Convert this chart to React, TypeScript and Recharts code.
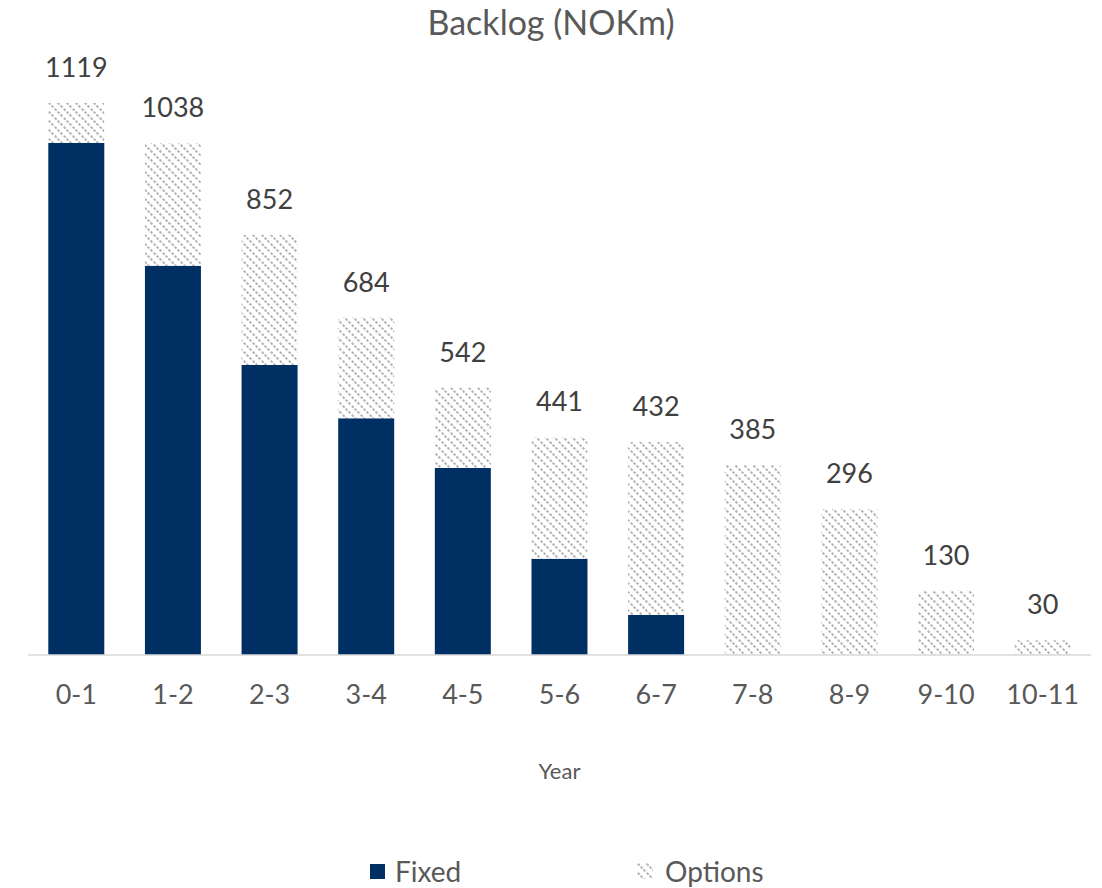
import React from "react";
import {
  BarChart,
  Bar,
  XAxis,
  YAxis,
  Legend,
  LabelList,
} from "recharts";

// Backlog per year bucket, NOKm
const years = ["0-1", "1-2", "2-3", "3-4", "4-5", "5-6", "6-7", "7-8", "8-9", "9-10", "10-11"];
const fixedValues = [1038, 789, 588, 480, 379, 195, 81, 0, 0, 0, 0];
const totalValues = [1119, 1038, 852, 684, 542, 441, 432, 385, 296, 130, 30];

const data = years.map((year, i) => ({
  year,
  fixed: fixedValues[i],
  options: totalValues[i] - fixedValues[i],
  total: totalValues[i],
}));

const FONT = "Lato, 'Open Sans', sans-serif";
const NAVY = "#003063";

function LegendContent() {
  return (
    <div style={{ position: "relative", height: 36, fontFamily: FONT, fontSize: 28, color: "#595959" }}>
      <div style={{ position: "absolute", left: 370, top: 2, display: "flex", alignItems: "center" }}>
        <span style={{ width: 15, height: 15, background: NAVY, display: "inline-block", marginRight: 10 }} />
        <span>Fixed</span>
      </div>
      <div style={{ position: "absolute", left: 637, top: 2, display: "flex", alignItems: "center" }}>
        <svg width={16} height={16} style={{ marginRight: 12 }}>
          <rect width={16} height={16} fill="url(#optionsHatch)" />
        </svg>
        <span>Options</span>
      </div>
    </div>
  );
}

export default function App() {
  return (
    <div style={{ position: "absolute", left: 0, top: 0, width: 1102, height: 888, background: "#fff" }}>
      <div
        style={{
          position: "absolute",
          top: 0,
          left: 0,
          width: 1102,
          textAlign: "center",
          fontFamily: FONT,
          fontSize: 34,
          lineHeight: "44px",
          color: "#595959",
        }}
      >
        Backlog (NOKm)
      </div>
      <BarChart
        width={1102}
        height={888}
        data={data}
        margin={{ top: 63, right: 11, bottom: 0, left: 28 }}
        barCategoryGap="21%"
      >
        <defs>
          <pattern id="optionsHatch" width={9} height={9} patternUnits="userSpaceOnUse">
            <rect width={9} height={9} fill="#ffffff" />
            <path
              d="M-2,-2 L11,11 M-2,7 L2,11 M7,-2 L11,2"
              stroke="#b3b3b3"
              strokeWidth={2}
              strokeDasharray="2.5 1.5"
            />
          </pattern>
        </defs>
        <XAxis
          dataKey="year"
          height={197}
          tickLine={false}
          tickMargin={24}
          axisLine={{ stroke: "#d9d9d9", strokeWidth: 1.5 }}
          tick={{ fontFamily: FONT, fontSize: 27, fill: "#595959" }}
          label={{
            value: "Year",
            position: "insideTop",
            offset: 108,
            style: { fontFamily: FONT, fontSize: 22, fill: "#595959" },
          }}
        />
        <YAxis hide domain={[0, 1200]} />
        <Legend verticalAlign="bottom" content={<LegendContent />} wrapperStyle={{ left: 0, width: 1102, bottom: 0 }} />
        <Bar dataKey="fixed" stackId="a" fill={NAVY} isAnimationActive={false} />
        <Bar dataKey="options" stackId="a" fill="url(#optionsHatch)" isAnimationActive={false}>
          <LabelList
            dataKey="total"
            position="top"
            offset={26}
            style={{ fontFamily: FONT, fontSize: 27, fill: "#404040" }}
          />
        </Bar>
      </BarChart>
    </div>
  );
}
